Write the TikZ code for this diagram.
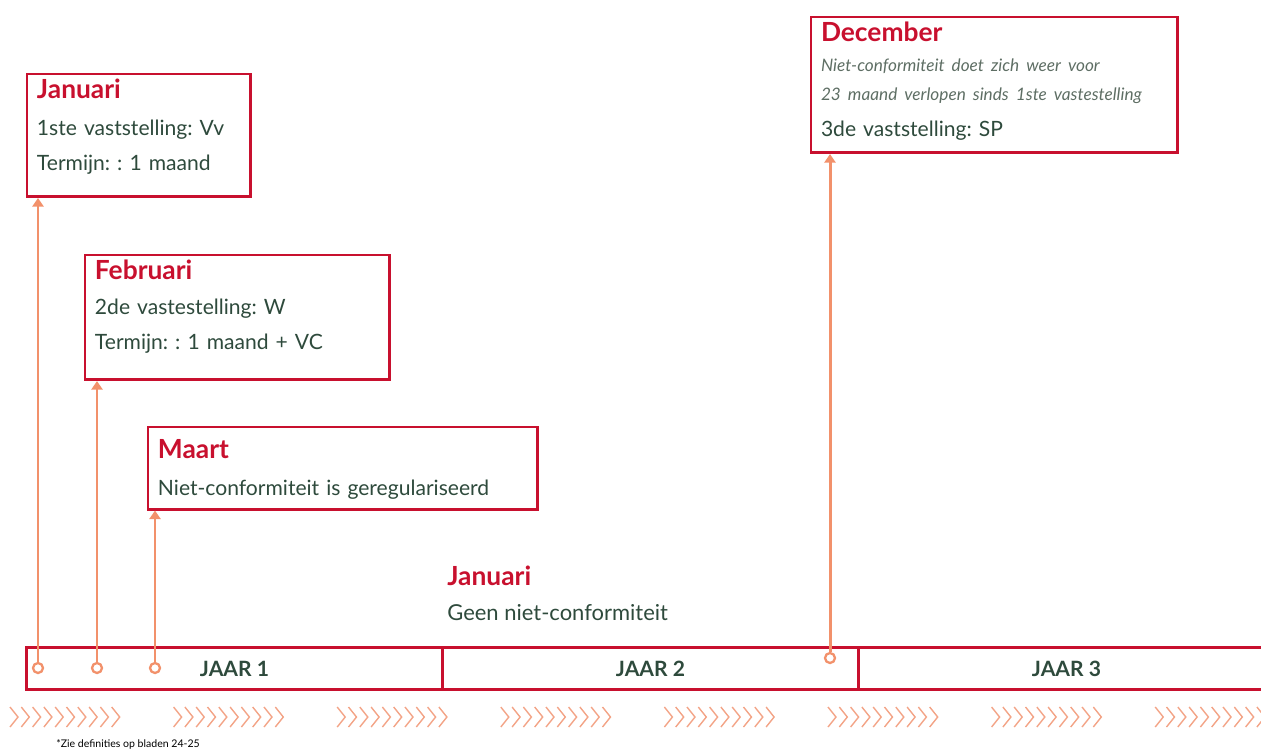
\documentclass[tikz,border=0pt]{standalone}
\usepackage{fontspec}
\setmainfont{Lato}
\usetikzlibrary{arrows.meta}
\frenchspacing

\definecolor{jred}{HTML}{C8102E}
\definecolor{jgreen}{HTML}{2E4A3C}
\definecolor{jgrey}{HTML}{5E6E64}
\definecolor{jsalmon}{HTML}{F2916B}
\definecolor{jchev}{HTML}{F3A487}

\begin{document}
\begin{tikzpicture}[x=0.02cm, y=-0.02cm,
        box/.style={rectangle, draw=jred, line width=1.7pt, anchor=north west, align=left,
            inner xsep=0.2cm, inner ysep=0.1cm, text=jgreen, font=\fontsize{12}{20}\selectfont},
        year/.style={rectangle, draw=jred, line width=1.7pt, anchor=north west, minimum width=8.32cm,
            minimum height=0.84cm, text=jgreen, font=\bfseries\fontsize{12}{14}\selectfont},
        dot/.style={circle, draw=jsalmon, line width=1.3pt, fill=white, minimum size=0.2cm, inner sep=0pt},
        arrow/.style={-{Triangle[length=0.17cm, width=0.22cm]}, draw=jsalmon, line width=1.7pt},
        chev/.style={draw=jchev, line width=0.8pt}
    ]
        \useasboundingbox (0,0) rectangle (1261,755);
        \clip (0,0) rectangle (1261,755);

        % Timeline with the three years
        \node[year] (jaar1) at (25,646) {JAAR 1};
        \node[year] (jaar2) at (441,646) {JAAR 2};
        \node[year] (jaar3) at (857,646) {JAAR 3};

        % Event boxes
        \node[box, text width=4.08cm, text depth=1.86cm] (jan) at (25.5,72.5)
            {{\bfseries\color{jred}\fontsize{15}{18}\selectfont Januari}\\[1pt]
            1ste vaststelling: Vv\\Termijn: : 1 maand};
        \node[box, text width=5.7cm, text depth=1.9cm] (feb) at (83.5,253.5)
            {{\bfseries\color{jred}\fontsize{15}{18}\selectfont Februari}\\
            2de vastestelling: W\\Termijn: : 1 maand + VC};
        \node[box, text width=7.4cm, inner ysep=0.25cm, text depth=0.76cm] (maart) at (146.5,425.5)
            {{\bfseries\color{jred}\fontsize{15}{18}\selectfont Maart}\\[1pt]
            Niet-conformiteit is geregulariseerd};
        \node[box, text width=6.94cm, text depth=2.12cm] (dec) at (809.5,15.5)
            {{\bfseries\color{jred}\fontsize{15}{18}\selectfont December}\\[-3pt]
            {\itshape\color{jgrey}\fontsize{9.8}{16}\selectfont Niet-conformiteit doet zich weer voor}\\[-3.5pt]
            {\itshape\color{jgrey}\fontsize{9.8}{16}\selectfont 23 maand verlopen sinds 1ste vastestelling}\\[0.5pt]
            3de vaststelling: SP};

        % Free text above the timeline
        \node[anchor=north west, align=left, inner sep=0pt, text=jgreen, font=\fontsize{12.5}{19.5}\selectfont] (jan2) at (447,566)
            {{\bfseries\color{jred}\fontsize{15}{18}\selectfont Januari}\\
            Geen niet-conformiteit};

        % Moments on the timeline
        \node[dot] (d1) at (38,668) {};
        \node[dot] (d2) at (97,668) {};
        \node[dot] (d3) at (155,668) {};
        \node[dot] (d4) at (830,658) {};

        \draw[arrow] (d1) -- (d1 |- jan.south);
        \draw[arrow] (d2) -- (d2 |- feb.south);
        \draw[arrow] (d3) -- (d3 |- maart.south);
        \draw[arrow] (d4) -- (d4 |- dec.south);

        % Chevrons under the timeline
        \foreach \g in {0,...,7}
            \foreach \k in {0,...,9}
                \draw[chev] ({10+163.6*\g+11.3*\k},707) -- ++(8,10) -- ++(-8,10);

        \node[anchor=west, inner sep=0pt, font=\fontsize{6}{7}\selectfont] (note) at (56,744)
            {*Zie definities op bladen 24-25};
    \end{tikzpicture}
\end{document}
